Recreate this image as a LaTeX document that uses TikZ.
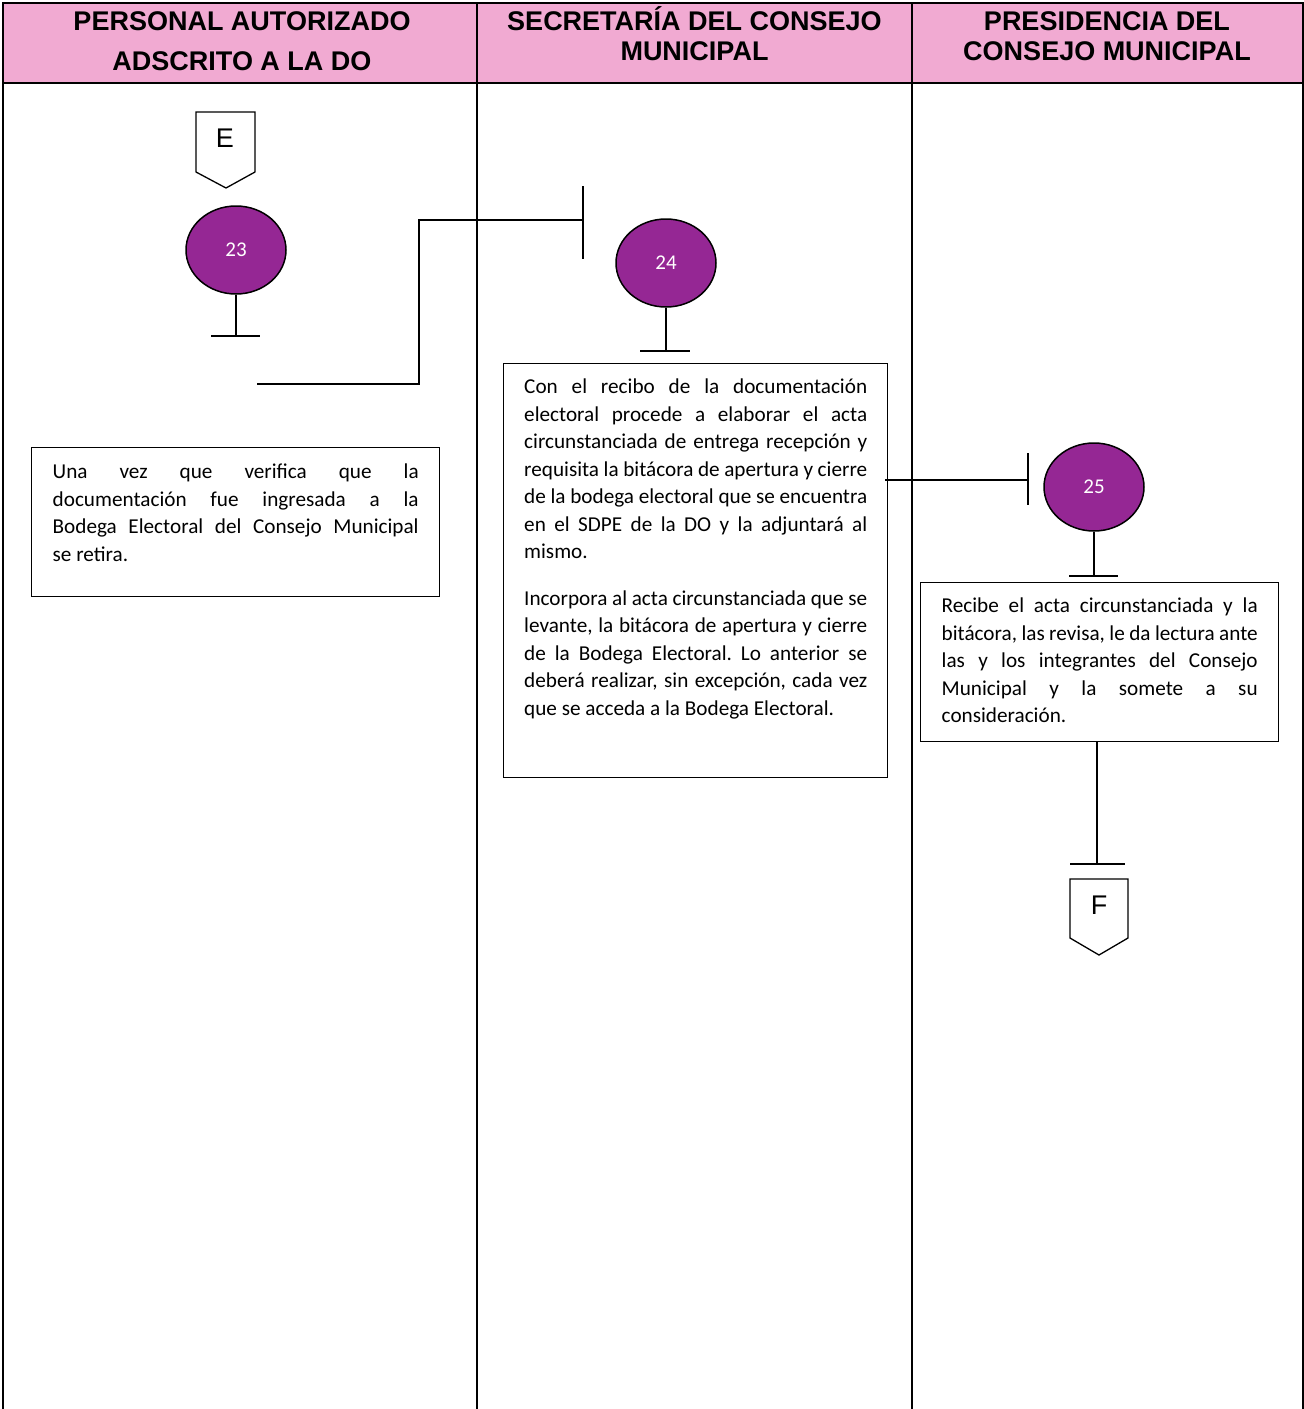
\documentclass[tikz,border=0pt]{standalone}
\usepackage{fontspec}
\setmainfont{Carlito}
\newfontfamily\arialf{Liberation Sans}
\usetikzlibrary{shapes.geometric,calc}
\definecolor{hdrpink}{RGB}{241,170,210}
\definecolor{stepPurple}{RGB}{149,39,148}
\frenchspacing
\newcommand{\boxtext}[4]{\parbox[c][#1][t]{#2}{\frenchspacing\hbadness=10000\hfuzz=20pt\vspace*{#3}\rule{0pt}{16pt}#4}}
\begin{document}
\begin{tikzpicture}[x=1pt,y=-1pt,line width=1.8pt,
  hdr/.style={font=\arialf\bfseries\fontsize{27}{30}\selectfont, anchor=base, inner sep=0},
  circ/.style={ellipse, draw=black, line width=1.5pt, fill=stepPurple, text=white,
    minimum width=100pt, minimum height=88pt, inner sep=0, font=\fontsize{21}{24}\selectfont},
  txtbox/.style={draw=black, line width=1.4pt, anchor=north west, inner ysep=0, inner xsep=21pt,
    font=\fontsize{21.2}{27.5}\selectfont},
  conn/.style={line width=1.8pt},
  letter/.style={font=\arialf\fontsize{27}{30}\selectfont, inner sep=0}]
\useasboundingbox (0,0) rectangle (1304,1409);
% header
\fill[hdrpink] (3,3) rectangle (1303,83);
\draw (3,1409) -- (3,3) -- (1303,3) -- (1303,1409);
\draw (3,83) -- (1303,83);
\draw (477,3) -- (477,1409);
\draw (912,3) -- (912,1409);
\node[hdr] (h1a) at (242,30) {PERSONAL AUTORIZADO};
\node[hdr] (h1b) at (242,70) {ADSCRITO A LA DO};
\node[hdr] (h2a) at (694.5,30) {SECRETARÍA DEL CONSEJO};
\node[hdr] (h2b) at (694.5,60) {MUNICIPAL};
\node[hdr] (h3a) at (1107,30) {PRESIDENCIA DEL};
\node[hdr] (h3b) at (1107,60) {CONSEJO MUNICIPAL};
% off-page E
\draw[line width=1.3pt] (196,112) -- (255,112) -- (255,172) -- (226,188) -- (196,172) -- cycle;
\node[letter] (E) at (225,138) {E};
% circle 23
\node[circ] (c23) at (236,250) {23};
\coordinate (t23) at (236,336);
\draw[line width=1.5pt] (c23.south) -- (t23);
\draw[line width=1.5pt] ($(t23)+(-25,0)$) -- ($(t23)+(24,0)$);
% connector to 24
\coordinate (s1) at (257,384);
\coordinate (bar24) at (583,220);
\draw[conn] (s1) -- (419,384) -- (419,220) -- (bar24);
\draw[line width=1.5pt] ($(bar24)+(0,-34)$) -- ($(bar24)+(0,39)$);
% box 23
\node[txtbox] (b23) at (31,447) {\boxtext{149pt}{366pt}{15pt}{Una vez que verifica que la\linebreak documentación fue ingresada a la\linebreak Bodega Electoral del Consejo Municipal\linebreak se retira.}};
% circle 24
\node[circ] (c24) at (666,263) {24};
\coordinate (t24) at (666,351);
\draw[line width=1.5pt] (c24.south) -- (t24);
\draw[line width=1.5pt] ($(t24)+(-26,0)$) -- ($(t24)+(24,0)$);
% box 24
\node[txtbox, inner xsep=20.5pt] (b24) at (503,363) {\boxtext{414pt}{343pt}{14pt}{Con el recibo de la documentación\linebreak electoral procede a elaborar el acta\linebreak circunstanciada de entrega recepción y\linebreak requisita la bitácora de apertura y cierre\linebreak de la bodega electoral que se encuentra\linebreak en el SDPE de la DO y la adjuntará al\linebreak mismo.\par\vspace{19pt}Incorpora al acta circunstanciada que se\linebreak levante, la bitácora de apertura y cierre\linebreak de la Bodega Electoral. Lo anterior se\linebreak deberá realizar, sin excepción, cada vez\linebreak que se acceda a la Bodega Electoral.}};
% connector to 25
\coordinate (bar25) at (1028,480);
\draw[line width=1.5pt] (885,480) -- (bar25);
\draw[line width=1.5pt] ($(bar25)+(0,-27)$) -- ($(bar25)+(0,25)$);
% circle 25
\node[circ] (c25) at (1094,487) {25};
\coordinate (t25) at (1094,576);
\draw[line width=1.5pt] (c25.south) -- (t25);
\draw[line width=1.5pt] ($(t25)+(-25,0)$) -- ($(t25)+(24,0)$);
% box 25
\node[txtbox] (b25) at (920,582) {\boxtext{159pt}{316pt}{14pt}{Recibe el acta circunstanciada y la\linebreak bitácora, las revisa, le da lectura ante\linebreak las y los integrantes del Consejo\linebreak Municipal y la somete a su\linebreak consideración.}};
% to F
\coordinate (tF) at (1097,864);
\draw[line width=1.5pt] (b25.south -| tF) -- (tF);
\draw[line width=1.5pt] ($(tF)+(-27,0)$) -- ($(tF)+(28,0)$);
\draw[line width=1.3pt] (1070,879) -- (1128,879) -- (1128,938) -- (1099,955) -- (1070,938) -- cycle;
\node[letter] (F) at (1099,905) {F};
\end{tikzpicture}
\end{document}
